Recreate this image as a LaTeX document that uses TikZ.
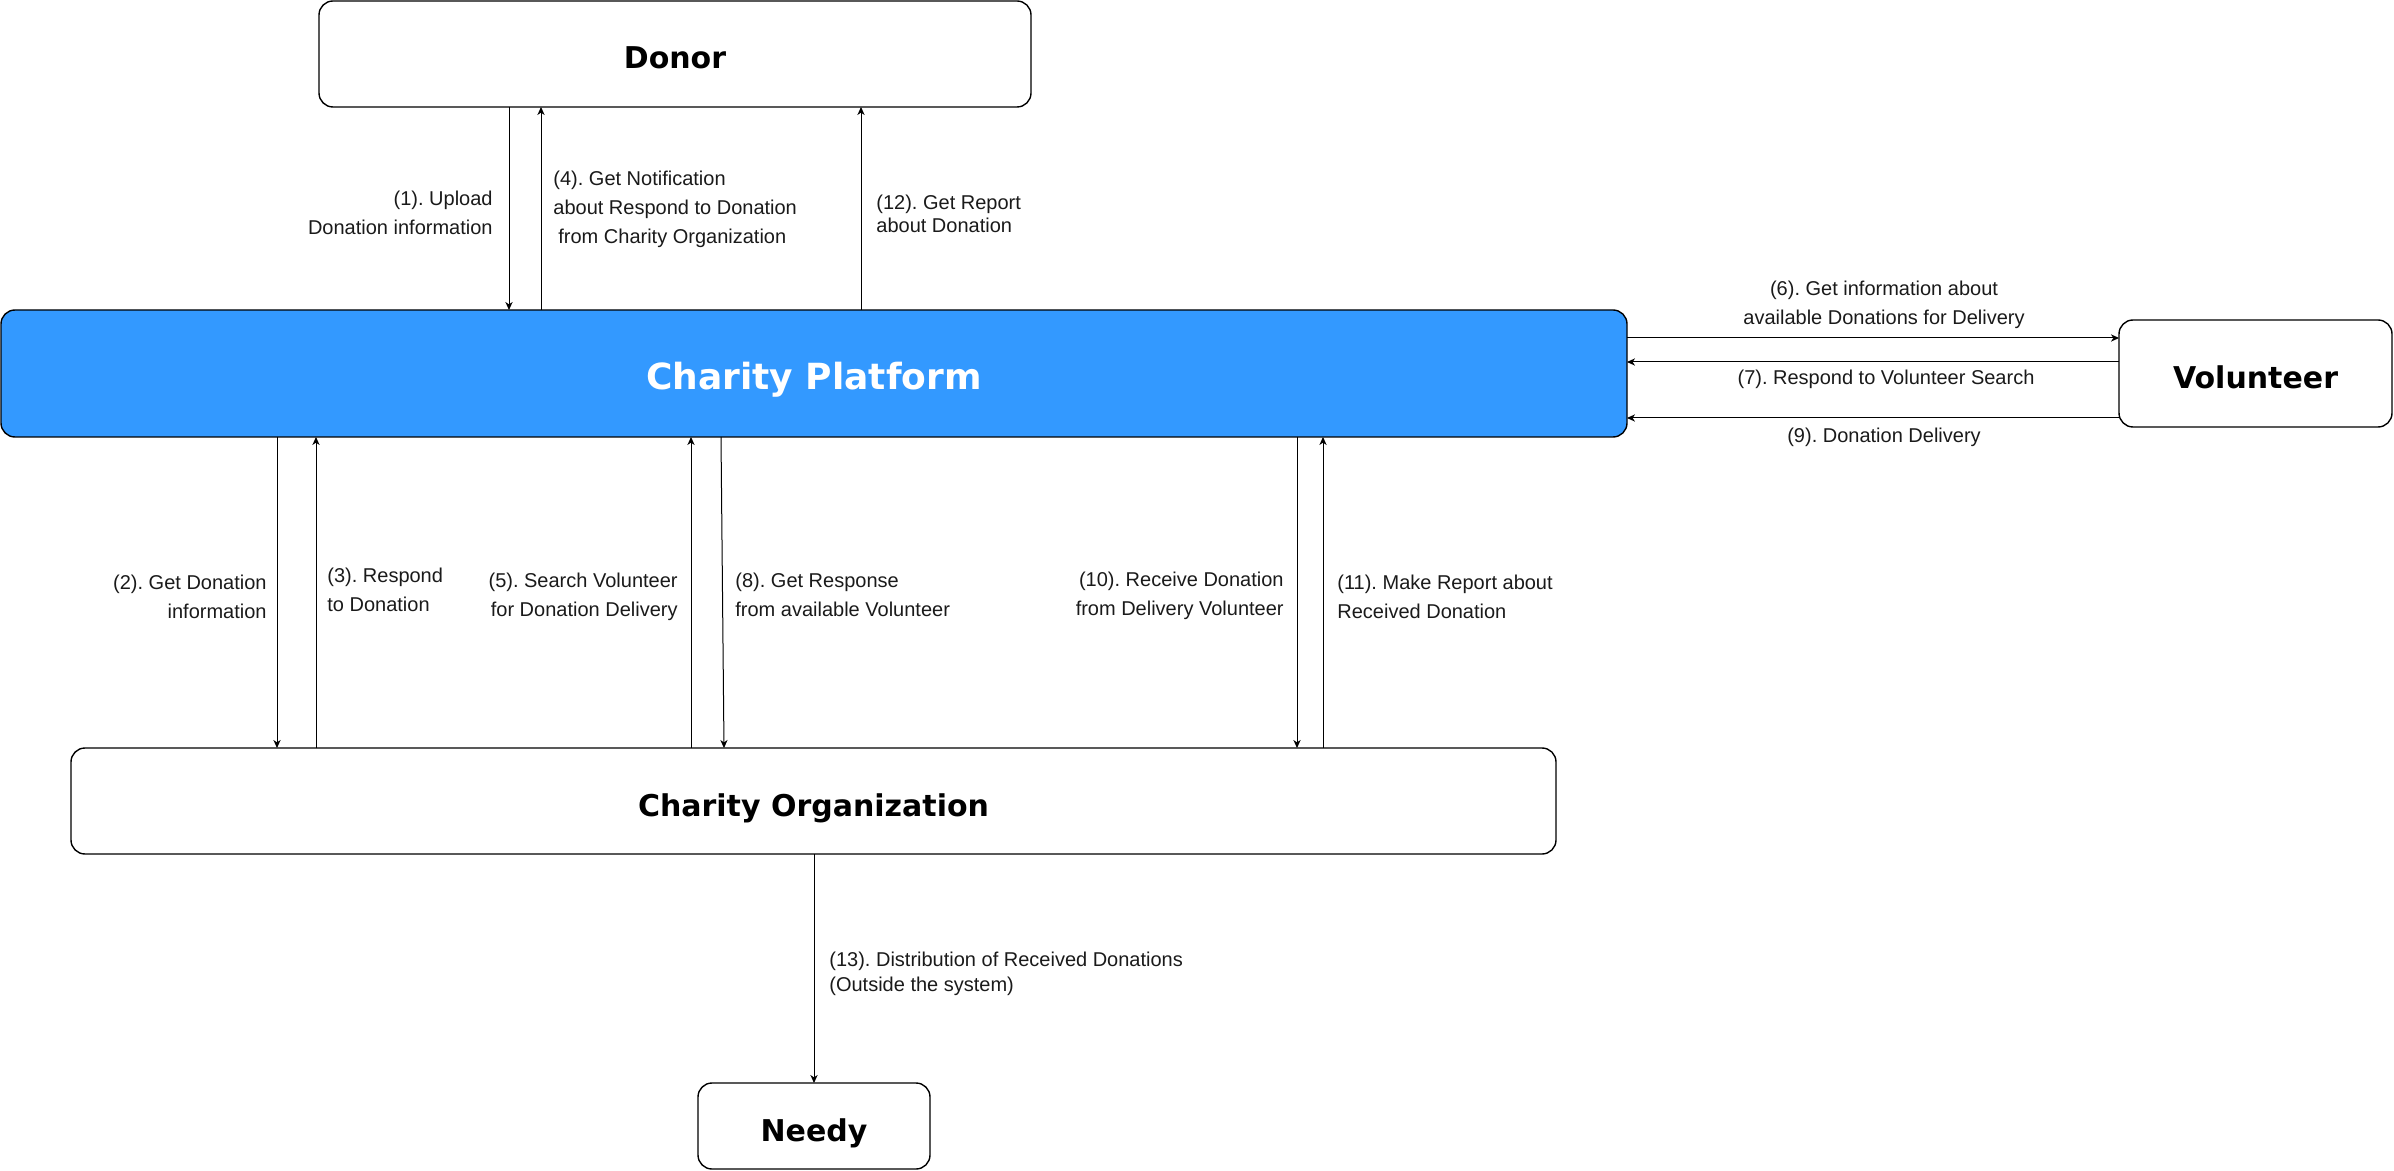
\documentclass[tikz,border=0pt]{standalone}
\usepackage{fontspec}
\setmainfont{Liberation Sans}
\newfontfamily\titlefont{DejaVu Sans}
\usetikzlibrary{arrows.meta}
\definecolor{platblue}{RGB}{51,153,255}
\definecolor{labelgray}{RGB}{26,26,26}
\frenchspacing
\begin{document}
\begin{tikzpicture}[x=0.5pt,y=-0.5pt,
  box/.style={draw=black, line width=0.7pt, rounded corners=7pt, fill=white, inner sep=0pt, outer sep=0pt, text height=15pt, text depth=0pt},
  title/.style={font=\titlefont\bfseries\fontsize{15}{18}\selectfont},
  flow/.style={draw=black, line width=0.5pt, -{Stealth[length=4pt,width=3.6pt,inset=1.2pt]}},
  lbl/.style={inner sep=0pt, text=labelgray, font=\fontsize{10}{14.5}\selectfont}
]
\useasboundingbox (0,0) rectangle (2394,1171);

% boxes
\node[box, title, minimum width=356pt, minimum height=53pt] (donor) at (675,54) {Donor};
\node[box, fill=platblue, minimum width=813pt, minimum height=63.5pt, text height=16.5pt,
      font=\titlefont\bfseries\fontsize{18}{21}\selectfont, text=white] (plat) at (814,373.5) {Charity Platform};
\node[box, title, minimum width=136.5pt, minimum height=53.5pt] (vol) at (2255.5,373.5) {Volunteer};
\node[box, title, minimum width=742.5pt, minimum height=53pt] (org) at (813.5,801) {Charity Organization};
\node[box, title, minimum width=116pt, minimum height=43pt] (needy) at (814,1126) {Needy};

% donor <-> platform
\draw[flow] (donor.south -| 509,0) -- (plat.north -| 509,0);
\draw[flow] (plat.north -| 541,0) -- (donor.south -| 541,0);
\draw[flow] (plat.north -| 861,0) -- (donor.south -| 861,0);

% platform <-> volunteer
\draw[flow] (plat.east |- 0,338) -- (vol.west |- 0,338);
\draw[flow] (vol.west |- 0,362) -- (plat.east |- 0,362);
\draw[flow] (vol.west |- 0,418) -- (plat.east |- 0,418);

% platform <-> organization
\draw[flow] (plat.south -| 277,0) -- (org.north -| 277,0);
\draw[flow] (org.north -| 316,0) -- (plat.south -| 316,0);
\draw[flow] (org.north -| 691,0) -- (plat.south -| 691,0);
\draw[flow] (plat.south -| 721,0) -- (org.north -| 724,0);
\draw[flow] (plat.south -| 1297,0) -- (org.north -| 1297,0);
\draw[flow] (org.north -| 1323,0) -- (plat.south -| 1323,0);

% organization -> needy
\draw[flow] (org.south -| 814,0) -- (needy.north -| 814,0);

% labels
\node[lbl, anchor=east, align=right] (l1) at (493,213) {(1). Upload\\Donation information};
\node[lbl, anchor=west, align=left] (l4) at (553,209) {(4). Get Notification\\about Respond to Donation\\\hspace*{2.5pt}from Charity Organization};
\node[lbl, anchor=west, align=left, font=\fontsize{10}{11.5}\selectfont] (l12) at (876,213.5) {(12). Get Report\\about Donation};
\node[lbl, align=center] (l6) at (1884,304.5) {(6). Get information about\\available Donations for Delivery};
\node[lbl, align=center] (l7) at (1886,379) {(7). Respond to Volunteer Search};
\node[lbl, align=center] (l9) at (1884,437) {(9). Donation Delivery};
\node[lbl, anchor=east, align=right] (l2) at (267,596.5) {(2). Get Donation\\information};
\node[lbl, anchor=west, align=left] (l3) at (327,589.5) {(3). Respond\\to Donation};
\node[lbl, anchor=east, align=right] (l5) at (678,597) {(5). Search Volunteer\\for Donation Delivery};
\node[lbl, anchor=west, align=left] (l8) at (735,595) {(8). Get Response\\from available Volunteer};
\node[lbl, anchor=east, align=right] (l10) at (1284,596) {(10). Receive Donation\\from Delivery Volunteer};
\node[lbl, anchor=west, align=left] (l11) at (1337,597) {(11). Make Report about\\Received Donation};
\node[lbl, anchor=west, align=left, font=\fontsize{10}{12.5}\selectfont] (l13) at (829,973.5) {(13). Distribution of Received Donations\\(Outside the system)};
\end{tikzpicture}
\end{document}
